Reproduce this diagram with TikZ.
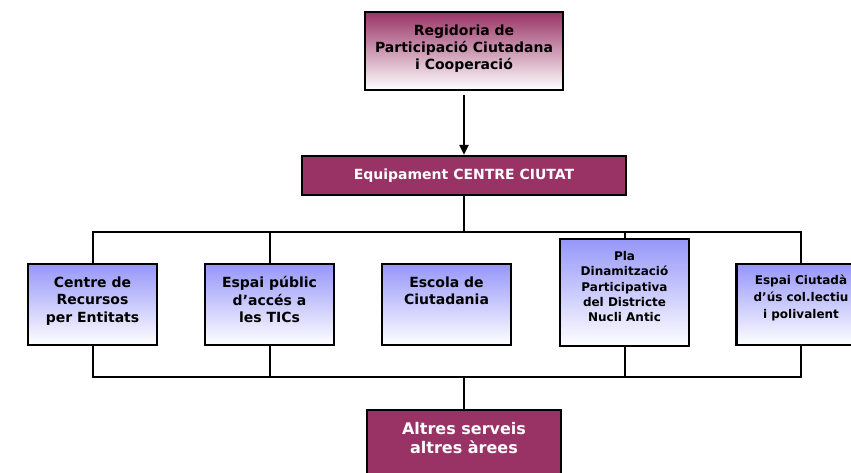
\documentclass[tikz,border=0pt]{standalone}
\usepackage{fontspec}
\setmainfont{DejaVu Sans}
\usetikzlibrary{arrows.meta}
\definecolor{baseplum}{RGB}{153,51,102}
\definecolor{baselilac}{RGB}{150,150,250}
\newcommand{\toptext}[4]{\parbox[c][#2][t]{#1}{\centering\vspace*{#3}#4}}

\begin{document}
\begin{tikzpicture}[x=1pt, y=-1pt, font=\bfseries]
  \tikzset{
    plum_box/.style={
      draw=black, line width=2.2pt, fill=baseplum, text=white, inner sep=0pt, align=center
    },
    faded_box/.style args={#1}{
      draw=black, line width=2.2pt, top color=#1, bottom color=white, inner sep=0pt
    },
    bus_line/.style={line width=2pt},
    down_arrow/.style={-{Triangle[width=9pt,length=10pt]}, line width=2pt}
  }

\useasboundingbox (0,0) rectangle (851,473);
\clip (0,0) rectangle (851,473);

% head of the chart
\node[faded_box=baseplum, font=\bfseries\fontsize{14}{17}\selectfont] (regidoria) at (464,51)
  {\toptext{198pt}{78pt}{12.5pt}{Regidoria de\\Participació Ciutadana\\i Cooperació}};
\node[plum_box, minimum width=324pt, minimum height=39pt, font=\bfseries\fontsize{14}{17}\selectfont]
  (equipament) at (464,175.5) {Equipament CENTRE CIUTAT};

% services of the centre
\node[faded_box=baselilac, font=\bfseries\fontsize{14}{17.5}\selectfont] (cr) at (92.5,304.5)
  {\toptext{129pt}{81pt}{12.5pt}{Centre de\\Recursos\\per Entitats}};
\node[faded_box=baselilac, font=\bfseries\fontsize{14}{17.5}\selectfont] (ep) at (269.5,304.5)
  {\toptext{129pt}{81pt}{12.5pt}{Espai públic\\d’accés a\\les TICs}};
\node[faded_box=baselilac, font=\bfseries\fontsize{14}{17.5}\selectfont] (ec) at (446.5,304.5)
  {\toptext{129pt}{81pt}{12.5pt}{Escola de\\Ciutadania}};
\node[faded_box=baselilac, font=\bfseries\fontsize{12}{15.3}\selectfont] (pd) at (624.5,292.5)
  {\toptext{129pt}{107pt}{12.5pt}{Pla\\Dinamització\\Participativa\\del Districte\\Nucli Antic}};
\node[faded_box=baselilac, font=\bfseries\fontsize{12}{17}\selectfont] (ci) at (801,304.5)
  {\toptext{129pt}{81pt}{11pt}{Espai Ciutadà\\d’ús col.lectiu\\i polivalent}};

\node[plum_box, font=\bfseries\fontsize{16}{19}\selectfont] (altres) at (464,449)
  {\toptext{194pt}{78pt}{12pt}{Altres serveis\\altres àrees}};

% connectors
\draw[down_arrow] (regidoria.south) ++(0,4) -- (equipament.north);
\coordinate (bus_top) at (0,232);
\coordinate (bus_bottom) at (0,377);
\draw[bus_line] (equipament.south) -- (equipament.south |- bus_top);
\draw[bus_line] (cr.north) |- (ci.north |- bus_top) -- (ci.north);
\draw[bus_line] (cr.south) |- (ci.south |- bus_bottom) -- (ci.south);
\foreach \n in {ep,pd} {
  \draw[bus_line] (\n.north) -- (\n.north |- bus_top);
  \draw[bus_line] (\n.south) -- (\n.south |- bus_bottom);
}
\draw[bus_line] (altres.north) -- (altres.north |- bus_bottom);

\end{tikzpicture}
\end{document}
